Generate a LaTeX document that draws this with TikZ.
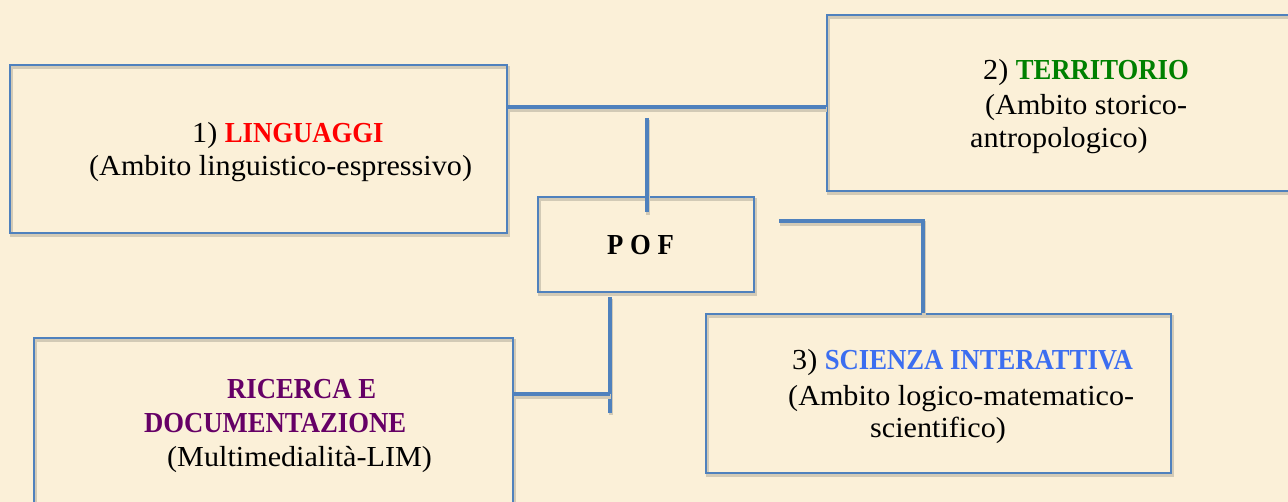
\documentclass[tikz,border=0pt]{standalone}
\usepackage{fontspec}
\setmainfont{Liberation Serif}[FakeStretch=1.04, BoldFont={Liberation Serif Bold}, BoldFeatures={FakeStretch=0.92}]
\usetikzlibrary{calc}
\definecolor{bg}{HTML}{FBF0D8}
\definecolor{lineblue}{HTML}{4F81BD}
\definecolor{shade}{HTML}{D2CAB6}
\definecolor{tred}{HTML}{FF0000}
\definecolor{tgreen}{HTML}{008000}
\definecolor{tblue}{HTML}{3C6EF0}
\definecolor{tpurple}{HTML}{660066}
\tikzset{
  box/.style={draw=lineblue, line width=1.8pt, inner sep=0pt,
    preaction={draw=shade, line width=2.5pt, transform canvas={shift={(1.5pt,-2.5pt)}}}},
  conn/.style={draw=lineblue, line width=4.5pt,
    preaction={draw=shade, line width=4.5pt, transform canvas={shift={(1pt,-2.5pt)}}}},
  txt/.style={inner sep=0pt, anchor=base west, font=\fontsize{29}{34}\selectfont},
}
\begin{document}
\begin{tikzpicture}[x=1pt,y=-1pt]
\fill[bg] (0,0) rectangle (1288,502);
\useasboundingbox (0,0) rectangle (1288,502);
\begin{scope}
\clip (0,0) rectangle (1288,502);
% boxes
\node[box, minimum width=497pt, minimum height=168pt] (b1) at (258.5,149) {};
\node[box, minimum width=480pt, minimum height=176pt] (b2) at (1067,103) {};
\node[box, minimum width=216pt, minimum height=95pt] (pof) at (646,244.5) {};
\node[box, minimum width=465pt, minimum height=159pt] (b3) at (938.5,393.5) {};
\node[box, minimum width=479pt, minimum height=180pt] (b4) at (273.5,428) {};
% connector coordinates
\coordinate (c1) at (647,118);
\coordinate (c2) at (779,221);
\coordinate (c3) at (610,394);
% connectors
\draw[conn] (b1.east |- 0,107) -- (b2.west |- 0,107);
\draw[conn] (c1) -- (c1 |- pof.north) -- ++(0,16);
\draw[conn] (c2) -- (923,221) -- (923,0 |- b3.north);
\draw[conn] (610,0 |- pof.south) ++(0,4) -- (610,413);
\draw[conn] (b4.east |- c3) -- (c3);
% texts
\node[txt] (t1a) at (192,143) {1) \textbf{\color{tred}LINGUAGGI}};
\node[txt] (t1b) at (89,176) {(Ambito linguistico-espressivo)};
\node[txt] (t2a) at (983,80) {2) \textbf{\color{tgreen}TERRITORIO}};
\node[txt] (t2b) at (985,115) {(Ambito storico-};
\node[txt] (t2c) at (970,148) {antropologico)};
\node[txt, font=\fontsize{29}{34}\selectfont\bfseries] (tp) at (607,255) {P O F};
\node[txt] (t3a) at (792,370) {3) \textbf{\color{tblue}SCIENZA INTERATTIVA}};
\node[txt] (t3b) at (788,406) {(Ambito logico-matematico-};
\node[txt] (t3c) at (870,438) {scientifico)};
\node[txt, font=\fontsize{29}{34}\selectfont\bfseries, text=tpurple] (t4a) at (227,399) {RICERCA E};
\node[txt, font=\fontsize{29}{34}\selectfont\bfseries, text=tpurple] (t4b) at (144,432) {DOCUMENTAZIONE};
\node[txt] (t4c) at (167,467) {(Multimedialità-LIM)};
\end{scope}
\end{tikzpicture}
\end{document}
